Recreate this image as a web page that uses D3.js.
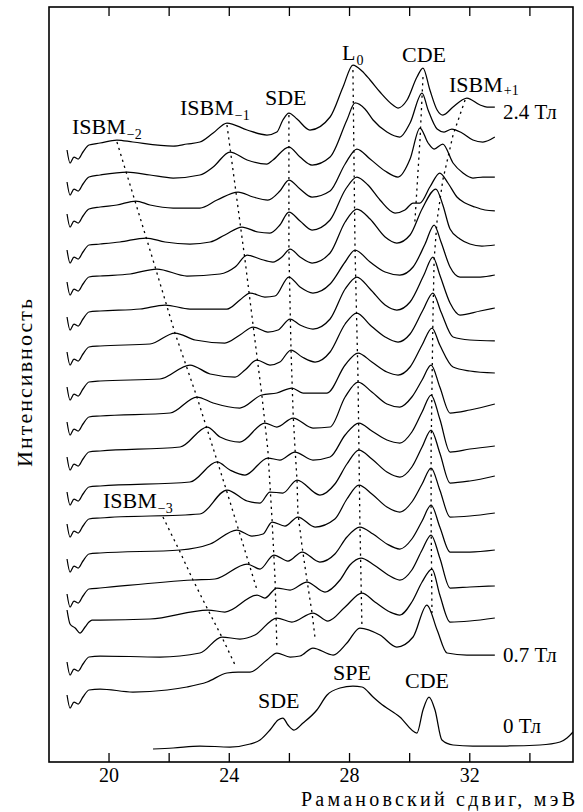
<!DOCTYPE html>
<html>
<head>
<meta charset="utf-8">
<script src="https://cdn.jsdelivr.net/npm/d3@7/dist/d3.min.js"></script>
<style>
  html, body { margin: 0; padding: 0; background: #fff; }
  svg { display: block; }
</style>
</head>
<body>
<svg id="chart" width="583" height="812"></svg>
<script>
// Raman spectra, stacked by magnetic field (2.4 T at the top down to 0.7 T), plus the 0 T spectrum.
// x: Raman shift, meV; y: intensity, arbitrary units (each spectrum carries its own vertical offset).

const energyTicks = [20, 22, 24, 26, 28, 30, 32, 34];
const labelledTicks = [20, 24, 28, 32];

// vertical offset of every spectrum, top (2.4 T) to bottom (0.7 T)
const offsets = [61.7, 58.5, 55.3, 51.7, 48.5, 45.0, 41.5, 38.0, 34.5, 31.0, 27.5, 24.3, 20.8, 17.3, 14.2, 10.5, 7.2];

const spec00 = [[18.62,-0.5],[18.72,-1.8],[18.85,-1.2],[18.99,-1.4],[19.15,-0.7],[19.35,0],[19.72,0.2],[20.28,0.5],[20.81,0.3],[22.15,-0.1],[22.61,0.1],[23.04,0.3],[23.48,1.2],[23.94,2.2],[24.61,1.5],[25.27,1.0],[25.60,1.3],[25.80,2.5],[26.00,3.2],[26.27,2.6],[26.70,1.5],[27.37,2.8],[27.80,5.8],[28.13,8.0],[28.43,7.4],[28.70,6.5],[29.03,5.3],[29.46,4.0],[29.63,3.7],[29.93,4.5],[30.26,6.8],[30.46,7.7],[30.69,5.5],[30.93,3.5],[31.12,3.0],[31.46,3.8],[31.76,4.5],[31.92,4.7],[32.36,4.0],[32.59,3.8],[32.85,3.8]];
const spec01 = [[18.62,-0.5],[18.72,-1.8],[18.85,-1.2],[18.99,-1.4],[19.15,-0.7],[19.35,0],[19.72,0.2],[20.62,0.5],[21.38,0.2],[22.15,-0.1],[23.04,0.2],[23.48,1.0],[24.04,2.5],[24.61,1.7],[25.27,1.3],[25.47,1.7],[26.00,3.0],[26.37,2.0],[26.77,1.2],[27.37,2.0],[27.93,5.7],[28.20,7.4],[28.53,6.8],[28.80,5.7],[29.26,4.5],[29.69,4.0],[30.03,5.4],[30.43,8.4],[30.63,6.7],[30.93,4.8],[31.16,4.5],[31.42,4.8],[31.76,4.4],[32.12,3.7],[32.45,3.5],[32.85,4.0]];
const spec02 = [[18.62,-0.5],[18.72,-1.8],[18.85,-1.2],[18.99,-1.4],[19.15,-0.7],[19.35,0],[19.72,0.2],[20.28,0.4],[20.91,0.8],[21.38,0.4],[22.15,0.1],[23.04,0.1],[23.61,0.9],[24.31,1.7],[24.81,1.2],[25.30,0.9],[25.70,1.8],[26.00,2.9],[26.37,2.0],[26.77,1.2],[27.37,1.8],[27.87,4.5],[28.26,6.0],[28.70,5.0],[29.20,3.8],[29.63,3.2],[30.03,5.0],[30.36,8.1],[30.63,6.6],[30.83,6.0],[31.12,6.5],[31.46,4.6],[31.79,3.6],[32.12,3.1],[32.45,3.2],[32.85,3.2]];
const spec03 = [[18.62,-0.5],[18.72,-1.8],[18.85,-1.2],[18.99,-1.4],[19.15,-0.7],[19.35,0],[19.72,0.1],[20.38,0.3],[21.25,0.7],[21.88,0.3],[22.71,0.1],[23.38,0.3],[23.87,1.0],[24.44,1.8],[24.97,1.3],[25.37,1.2],[25.70,2.0],[26.00,3.3],[26.37,2.4],[26.77,1.5],[27.37,2.5],[27.87,5.5],[28.26,6.8],[28.63,6.0],[29.03,4.5],[29.53,3.2],[29.86,3.5],[30.13,4.2],[30.36,4.2],[30.69,5.8],[31.02,7.2],[31.29,6.2],[31.59,4.8],[31.86,4.2],[32.19,3.8],[32.52,3.5],[32.85,3.4]];
const spec04 = [[18.62,-0.5],[18.72,-1.8],[18.85,-1.2],[18.99,-1.4],[19.15,-0.7],[19.35,0],[19.72,0.1],[20.72,0.3],[21.61,0.8],[22.61,0.1],[23.71,0.3],[24.21,1.0],[24.61,2.2],[25.04,1.8],[25.47,1.5],[25.77,2.0],[26.04,2.8],[26.37,2.0],[26.77,1.4],[27.37,2.4],[27.87,5.5],[28.26,6.8],[28.70,5.8],[29.20,4.0],[29.59,3.4],[30.03,4.2],[30.43,6.8],[30.89,8.8],[31.12,7.2],[31.36,4.8],[31.69,3.8],[32.02,3.3],[32.42,3.1],[32.85,3.2]];
const spec05 = [[18.62,-0.5],[18.72,-1.8],[18.85,-1.2],[18.99,-1.4],[19.15,-0.7],[19.35,0],[19.72,0.1],[21.05,0.3],[21.88,0.7],[22.71,0.3],[23.94,0.3],[24.37,1.2],[24.71,1.9],[25.20,1.5],[25.54,1.6],[26.00,3.5],[26.37,2.5],[26.80,1.9],[27.37,2.8],[27.87,5.0],[28.20,6.2],[28.70,5.0],[29.20,4.0],[29.69,3.7],[30.13,4.5],[30.53,6.8],[30.83,8.7],[31.06,7.0],[31.36,4.5],[31.69,3.5],[32.36,3.5],[32.85,3.7]];
const spec06 = [[18.62,-0.5],[18.72,-1.8],[18.85,-1.2],[18.99,-1.4],[19.15,-0.7],[19.35,0],[19.72,0.1],[21.38,0.3],[22.21,1.4],[22.88,0.7],[23.87,0.4],[24.37,1.2],[24.81,2.0],[25.30,1.5],[25.64,1.7],[26.04,2.8],[26.37,2.2],[26.80,1.8],[27.37,2.8],[27.87,5.8],[28.26,7.0],[28.70,5.8],[29.20,4.2],[29.59,3.7],[30.03,4.5],[30.49,7.2],[30.79,9.0],[31.02,7.2],[31.36,4.4],[31.69,3.2],[32.36,3.6],[32.85,3.9]];
const spec07 = [[18.62,-0.5],[18.72,-1.8],[18.85,-1.2],[18.99,-1.4],[19.15,-0.7],[19.35,0],[19.72,0.1],[21.71,0.3],[22.71,1.7],[23.38,0.8],[24.21,0.5],[24.54,1.2],[24.94,2.2],[25.37,1.7],[25.70,2.0],[26.07,3.2],[26.44,2.5],[26.87,2.0],[27.37,3.0],[27.87,5.8],[28.26,6.9],[28.70,5.7],[29.20,4.5],[29.63,4.0],[30.03,4.8],[30.46,7.2],[30.79,8.9],[31.06,7.0],[31.46,4.5],[32.02,4.2],[32.85,4.1]];
const spec08 = [[18.62,-0.5],[18.72,-1.8],[18.85,-1.2],[18.99,-1.4],[19.15,-0.7],[19.35,0],[19.72,0.1],[22.05,0.4],[22.94,2.0],[23.48,1.4],[24.37,0.9],[25.10,2.2],[25.60,2.4],[26.10,2.9],[26.47,2.4],[27.27,2.4],[27.87,5.2],[28.30,6.4],[28.76,5.5],[29.26,4.5],[29.63,4.2],[30.03,5.0],[30.43,7.2],[30.76,8.9],[31.02,7.2],[31.46,5.0],[32.02,4.6],[32.85,4.4]];
const spec09 = [[18.62,-0.5],[18.72,-1.8],[18.85,-1.2],[18.99,-1.4],[19.15,-0.7],[19.35,0],[19.72,0.1],[22.38,0.5],[23.28,2.5],[23.71,1.5],[24.37,1.0],[25.20,2.9],[25.60,2.5],[26.14,3.4],[26.80,2.4],[27.37,2.5],[27.87,5.5],[28.30,7.0],[28.76,6.0],[29.26,4.8],[29.69,4.5],[30.09,5.5],[30.43,7.2],[30.73,8.7],[31.02,6.5],[31.36,3.9],[32.02,4.2],[32.85,4.8]];
const spec10 = [[18.62,-0.5],[18.72,-1.8],[18.85,-1.2],[18.99,-1.4],[19.15,-0.7],[19.35,0],[19.72,0.1],[22.71,0.5],[23.61,2.5],[24.04,1.7],[24.54,1.2],[25.30,2.9],[25.70,2.7],[26.20,3.5],[26.80,2.7],[27.37,3.0],[27.87,5.2],[28.33,6.4],[28.76,5.6],[29.26,4.7],[29.69,4.4],[30.09,5.5],[30.43,7.5],[30.73,9.2],[31.02,6.8],[31.36,3.5],[32.02,3.8],[32.85,4.1]];
const spec11 = [[18.62,-0.5],[18.72,-1.8],[18.85,-1.2],[18.99,-1.4],[19.15,-0.7],[19.35,0],[19.72,0.1],[23.04,0.5],[23.94,2.9],[24.61,1.8],[25.04,1.6],[25.37,2.7],[25.80,2.6],[26.27,3.9],[27.03,2.4],[27.53,3.5],[27.93,5.5],[28.33,6.9],[28.76,6.0],[29.26,4.7],[29.69,4.2],[30.09,5.2],[30.43,7.2],[30.73,8.9],[31.02,6.6],[31.36,3.6],[32.02,3.8],[32.85,4.3]];
const spec12 = [[18.62,-0.5],[18.72,-1.8],[18.85,-1.2],[18.99,-1.4],[19.15,-0.7],[19.35,0],[19.72,0.1],[22.38,0.4],[23.38,1.0],[24.27,2.4],[24.77,1.8],[25.14,2.0],[25.44,3.2],[25.87,2.8],[26.30,3.7],[26.87,2.7],[27.53,3.5],[27.93,5.5],[28.33,6.9],[28.76,6.0],[29.26,4.7],[29.69,4.2],[30.09,5.2],[30.43,7.0],[30.73,8.6],[31.02,6.4],[31.36,3.7],[32.02,3.8],[32.85,4.1]];
const spec13 = [[18.62,-0.5],[18.72,-1.8],[18.85,-1.2],[18.99,-1.4],[19.15,-0.7],[19.35,0],[19.72,0.1],[22.81,0.9],[23.54,1.0],[24.61,2.5],[25.04,2.0],[25.50,3.4],[25.97,2.8],[26.44,3.7],[27.03,2.7],[27.53,3.5],[27.93,5.2],[28.36,6.2],[28.80,5.5],[29.26,4.5],[29.69,4.0],[30.09,5.0],[30.43,6.8],[30.73,8.4],[31.02,6.2],[31.36,3.7],[32.02,3.7],[32.85,3.9]];
const spec14 = [[18.62,1.0],[18.72,-0.4],[18.89,-0.8],[19.05,-1.3],[19.22,-0.7],[19.35,-0.2],[19.45,0],[19.72,0],[21.38,0.1],[23.31,1.0],[23.87,0.8],[24.94,2.5],[25.20,2.2],[25.60,3.2],[26.04,3.0],[26.60,3.8],[27.20,2.8],[27.70,4.0],[28.03,5.5],[28.40,6.2],[28.83,5.5],[29.30,4.5],[29.69,4.0],[30.09,5.0],[30.43,7.0],[30.73,8.5],[31.02,6.2],[31.36,3.2],[32.02,3.3],[32.85,3.4]];
const spec15 = [[18.62,-0.5],[18.72,-1.8],[18.85,-1.2],[18.99,-1.4],[19.15,-0.7],[19.35,0],[19.72,0.1],[21.71,0],[23.04,0.4],[23.77,2.0],[24.37,1.8],[24.87,2.2],[25.60,3.9],[26.10,3.5],[26.80,4.4],[27.30,3.6],[27.87,5.0],[28.43,6.4],[28.86,5.5],[29.36,4.5],[29.69,4.2],[30.09,5.5],[30.43,7.5],[30.76,8.8],[31.02,6.2],[31.36,3.5],[32.02,3.6],[32.85,3.9]];
const spec16 = [[18.62,-0.5],[18.72,-1.8],[18.85,-1.2],[18.99,-1.4],[19.15,-0.7],[19.35,0],[19.72,0.1],[20.81,-0.2],[21.95,0],[22.61,0.3],[23.28,0.8],[23.94,1.7],[24.31,1.8],[24.71,1.8],[25.27,3.0],[25.60,3.7],[26.04,3.3],[26.37,3.4],[26.80,4.2],[27.47,3.5],[27.93,4.7],[28.36,6.2],[29.03,5.5],[29.59,4.3],[30.13,5.3],[30.59,8.5],[30.93,6.0],[31.26,3.7],[31.92,3.5],[32.85,3.5]];

const spectra = [spec00, spec01, spec02, spec03, spec04, spec05, spec06, spec07, spec08,
                 spec09, spec10, spec11, spec12, spec13, spec14, spec15, spec16];

// zero-field spectrum
const zeroFieldOffset = 1.4;
const zeroField = [[21.48,-0.1],[22.15,0],[23.04,0.2],[24.04,0.1],[24.71,0.4],[25.04,0.8],[25.37,1.8],[25.64,2.8],[25.80,3.0],[25.97,2.3],[26.17,1.8],[26.47,2.5],[26.93,3.8],[27.27,5.3],[27.70,6.0],[28.13,6.2],[28.43,6.1],[28.80,5.1],[29.03,4.5],[29.69,3.1],[30.26,1.5],[30.46,3.8],[30.66,5.1],[30.86,3.8],[31.09,0.8],[31.46,0.3],[32.12,0.2],[33.25,0.2],[34.35,0.3],[35.02,0.6],[35.25,1.0],[35.45,1.6]];

// dotted guides following each mode through the field series (absolute coordinates)
const guideIsbmM2 = [[20.28,62.0],[21.48,50.2],[22.21,42.9],[22.94,36.5],[23.94,27.0],[24.94,17.2]];
const guideIsbmM3 = [[21.81,24.5],[22.38,21.0],[22.81,18.2],[23.31,15.2],[23.77,12.5],[24.21,9.7]];
const guideIsbmM1 = [[23.94,63.7],[24.54,50.2],[24.94,40.5],[25.10,36.7],[25.30,31.2],[25.44,24.2],[25.54,18.2],[25.60,11.5]];
const guideSde = [[26.00,64.7],[26.00,51.2],[26.07,41.2],[26.14,34.9],[26.20,31.5],[26.27,28.2],[26.30,24.9],[26.44,21.5],[26.60,18.2],[26.77,14.9],[26.87,12.4]];
const guideL0 = [[28.13,69.2],[28.20,51.2],[28.30,38.2],[28.36,24.2],[28.43,13.4]];
const guideCdeUpper = [[30.46,68.5],[30.36,62.2],[30.19,54.0]];
const guideIsbmP1 = [[31.86,66.2],[31.46,62.7],[31.12,58.2],[30.93,54.2],[30.83,50.2],[30.79,44.2],[30.73,31.2],[30.73,24.2],[30.76,14.5]];
const guides = [guideIsbmM2, guideIsbmM3, guideIsbmM1, guideSde, guideL0, guideCdeUpper, guideIsbmP1];

// ---------------------------------------------------------------------------
const FONT = '"Liberation Serif", "DejaVu Serif", "Noto Serif", "Times New Roman", Times, serif';
const svg = d3.select("#chart");
const frame = { left: 49, right: 573, top: 7, bottom: 762 };

const x = d3.scaleLinear().domain([18.02, 35.45]).range([frame.left, frame.right]);
const y = d3.scaleLinear().domain([0, 75.5]).range([frame.bottom, frame.top]);

svg.append("defs").append("clipPath").attr("id", "plot-clip")
  .append("rect")
  .attr("x", frame.left).attr("y", frame.top)
  .attr("width", frame.right - frame.left).attr("height", frame.bottom - frame.top);

const plot = svg.append("g").attr("clip-path", "url(#plot-clip)");

// dotted guides
const guideLine = d3.line().x(d => x(d[0])).y(d => y(d[1]));
plot.selectAll("path.guide").data(guides).join("path")
  .attr("class", "guide")
  .attr("d", guideLine)
  .attr("fill", "none")
  .attr("stroke", "#000")
  .attr("stroke-width", 1.3)
  .attr("stroke-dasharray", "2.2,4");

// spectra
const specLine = off => d3.line()
  .curve(d3.curveMonotoneX)
  .x(d => x(d[0]))
  .y(d => y(off + d[1]));

plot.selectAll("path.spec").data(spectra).join("path")
  .attr("class", "spec")
  .attr("d", (d, i) => specLine(offsets[i])(d))
  .attr("fill", "none")
  .attr("stroke", "#000")
  .attr("stroke-width", 1.25)
  .attr("stroke-linejoin", "round");

plot.append("path")
  .attr("d", specLine(zeroFieldOffset)(zeroField))
  .attr("fill", "none")
  .attr("stroke", "#000")
  .attr("stroke-width", 1.25);

// frame
svg.append("rect")
  .attr("x", frame.left).attr("y", frame.top)
  .attr("width", frame.right - frame.left).attr("height", frame.bottom - frame.top)
  .attr("fill", "none").attr("stroke", "#000").attr("stroke-width", 1.6);

// axes: inward ticks on bottom and top, numbers on the bottom only
const bottomAxis = d3.axisBottom(x).tickValues(energyTicks).tickSizeInner(-9).tickSizeOuter(0)
  .tickPadding(6).tickFormat(d => labelledTicks.includes(d) ? d : "");
const gB = svg.append("g").attr("transform", `translate(0,${frame.bottom})`).call(bottomAxis);
gB.select(".domain").remove();
gB.selectAll(".tick line").attr("stroke-width", 1.3);
gB.selectAll("text").style("font-family", FONT).style("font-size", "20px");

const topAxis = d3.axisTop(x).tickValues(energyTicks).tickSizeInner(-9).tickSizeOuter(0).tickFormat("");
const gT = svg.append("g").attr("transform", `translate(0,${frame.top})`).call(topAxis);
gT.select(".domain").remove();
gT.selectAll(".tick line").attr("stroke-width", 1.3);

// axis titles
svg.append("text")
  .attr("x", 575).attr("y", 806)
  .attr("text-anchor", "end")
  .style("font-family", FONT).style("font-size", "20px")
  .attr("textLength", 274).attr("lengthAdjust", "spacing")
  .text("Рамановский сдвиг,  мэВ");

svg.append("text")
  .attr("transform", "translate(32,383) rotate(-90)")
  .attr("text-anchor", "middle")
  .style("font-family", FONT).style("font-size", "22px")
  .attr("textLength", 168).attr("lengthAdjust", "spacing")
  .text("Интенсивность");

// mode and field annotations
function label(px, py, main, sub, subShift = 5) {
  const t = svg.append("text").attr("x", px).attr("y", py)
    .style("font-family", FONT).style("font-size", "22px");
  t.append("tspan").text(main);
  if (sub) t.append("tspan").style("font-size", "14px").attr("dy", subShift).attr("dx", 1).text(sub);
  return t;
}
label(72, 134, "ISBM", "\u22122");
label(180, 115, "ISBM", "\u22121");
label(265, 105, "SDE");
label(342, 60, "L", "0");
label(402, 62, "CDE");
label(449, 92, "ISBM", "+1", 3);
label(503, 119, "2.4 Тл").style("font-size", "21px");
label(103, 508, "ISBM", "\u22123");
label(503, 662, "0.7 Тл").style("font-size", "21px");
label(258, 708, "SDE");
label(333, 680, "SPE");
label(405, 688, "CDE");
label(503, 733, "0 Тл").style("font-size", "21px");
</script>
</body>
</html>
